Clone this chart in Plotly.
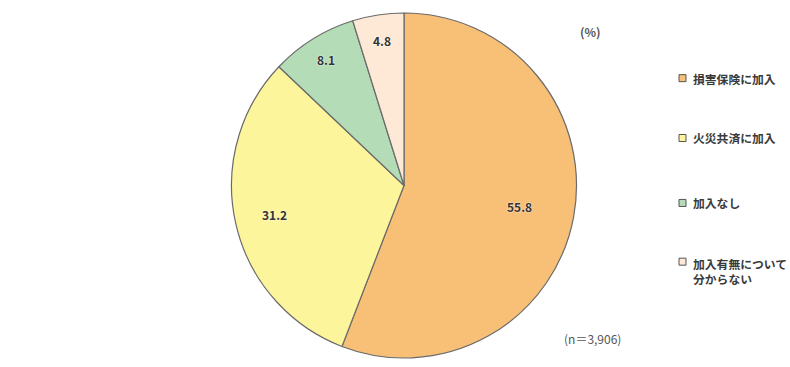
import math
import plotly.graph_objects as go

labels = ["損害保険に加入", "火災共済に加入", "加入なし", "加入有無について<br>分からない"]
values = [55.8, 31.2, 8.1, 4.8]
colors = ["#F8BF76", "#FDF59B", "#B4DCB6", "#FDE9D5"]
label_radius = [0.68, 0.77, 0.86, 0.85]   # style: fraction of radius for value labels
legend_y = [0.787, 0.624, 0.447, 0.287]

FONT = "Noto Sans CJK JP"
W, H = 790, 367
PX0, PX1, PY0, PY1 = 231, 577, 13, 358   # pie domain in pixels

fig = go.Figure(go.Pie(
    labels=labels, values=values, sort=False, direction="clockwise", rotation=0,
    marker=dict(colors=colors, line=dict(color="#6b6b6b", width=1.2)),
    textinfo="none",
    domain=dict(x=[PX0 / W, PX1 / W], y=[1 - PY1 / H, 1 - PY0 / H]),
    showlegend=False, hoverinfo="label+value",
))

shapes = []
annotations = []

# value labels placed at slice mid-angles computed from the data
cx, cy = (PX0 + PX1) / 2, (PY0 + PY1) / 2
R = min(PX1 - PX0, PY1 - PY0) / 2
total = sum(values)
cum = 0.0
for v, rf in zip(values, label_radius):
    mid = (cum + v / 2) / total * 2 * math.pi
    cum += v
    px = cx + rf * R * math.sin(mid)
    py = cy - rf * R * math.cos(mid)
    annotations.append(dict(text=f"{v:.1f}", xref="paper", yref="paper",
                            x=px / W, y=1 - py / H, xanchor="center", yanchor="middle",
                            showarrow=False,
                            font=dict(family=FONT, size=12, color="#333333", weight="bold",
                                      shadow="0px 0px 2px #ffffff")))

for lab, col, y in zip(labels, colors, legend_y):
    shapes.append(dict(type="rect", xref="paper", yref="paper",
                       x0=679 / W, x1=686 / W, y0=y - 3.5 / H, y1=y + 3.5 / H,
                       fillcolor=col, line=dict(color="#555555", width=1)))
    two = "<br>" in lab
    annotations.append(dict(text=lab, xref="paper", yref="paper", x=691 / W, y=y,
                            xanchor="left", yanchor="top" if two else "middle",
                            yshift=9 if two else 0,
                            align="left", showarrow=False,
                            font=dict(family=FONT, size=11.8, color="#3a3a3a", weight="bold")))

annotations.append(dict(text="(%)", xref="paper", yref="paper", x=590 / W, y=1 - 32 / H,
                        xanchor="center", yanchor="middle", showarrow=False,
                        font=dict(family=FONT, size=12, color="#555555", weight="bold")))
annotations.append(dict(text="(n＝3,906)", xref="paper", yref="paper", x=592 / W, y=1 - 338 / H,
                        xanchor="center", yanchor="middle", showarrow=False,
                        font=dict(family=FONT, size=12, color="#555555")))

fig.update_layout(
    width=W, height=H, margin=dict(l=0, r=0, t=0, b=0),
    paper_bgcolor="white", plot_bgcolor="white",
    shapes=shapes, annotations=annotations,
)
fig.write_html("out.html")
